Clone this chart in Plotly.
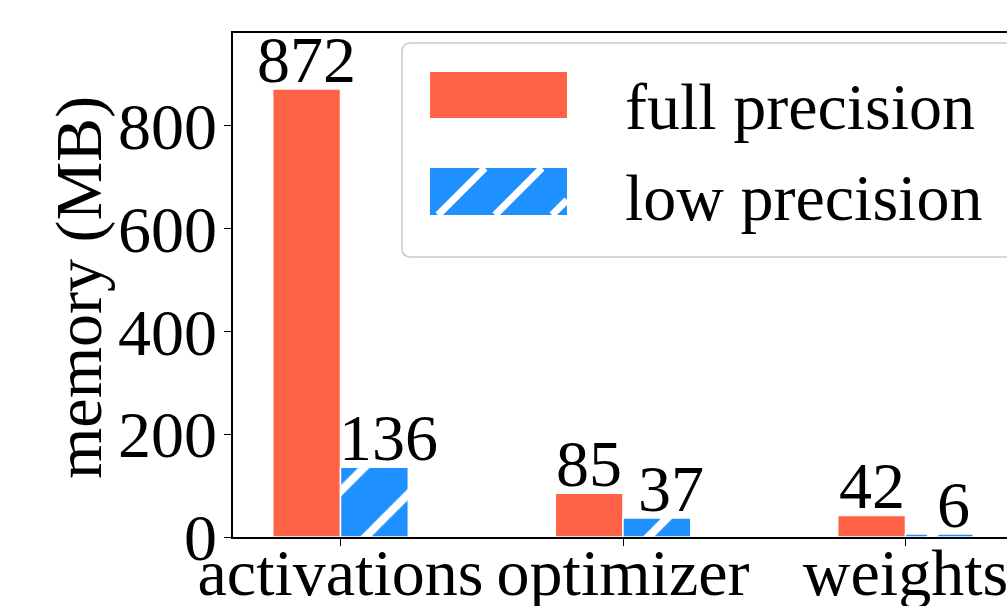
import plotly.graph_objects as go

# ---- data -------------------------------------------------------------
components = ["activations", "optimizer", "weights"]
full_precision = [872, 85, 42]
low_precision = [136, 37, 6]
y_ticks = [0, 200, 400, 600, 800]

# ---- style ------------------------------------------------------------
RED = "#FF6347"
BLUE = "#1E90FF"
FONT = "Liberation Serif"
FS = 66
BAR_W = 0.24

W, H = 1007, 606
M_L, M_R, M_T, M_B = 233, 0, 33, 69
PW, PH = W - M_L - M_R, H - M_T - M_B


def px(x):
    """pixel x -> paper x"""
    return (x - M_L) / PW


def py(y):
    """pixel y -> paper y"""
    return (H - M_B - y) / PH


idx = list(range(len(components)))

fig = go.Figure()
fig.add_trace(go.Bar(
    x=idx, y=full_precision, name="full precision",
    width=BAR_W, offset=-BAR_W,
    marker=dict(color=RED, line=dict(color="white", width=1.5)),
))
fig.add_trace(go.Bar(
    x=idx, y=low_precision, name="low precision",
    width=BAR_W, offset=0,
    marker=dict(
        color=BLUE,
        line=dict(color="white", width=1.5),
        pattern=dict(shape="/", fgcolor="white", bgcolor=BLUE,
                     size=50, solidity=0.16, fillmode="replace"),
    ),
))

annotations = []
# value labels on top of each bar (low-precision labels sit a bit to the right)
for i, (f, l) in enumerate(zip(full_precision, low_precision)):
    for xv, val, dx in ((i - BAR_W / 2, f, 0), (i + BAR_W / 2, l, 14)):
        annotations.append(dict(
            x=xv, y=val, xref="x", yref="y", text=str(val),
            showarrow=False, xanchor="center", yanchor="bottom",
            xshift=dx, yshift=-9,
            font=dict(family=FONT, size=FS, color="black"),
        ))

# y-axis title
annotations.append(dict(
    x=px(79), y=py(288), xref="paper", yref="paper",
    text="memory (MB)", textangle=-90, showarrow=False,
    xanchor="center", yanchor="middle",
    font=dict(family=FONT, size=FS, color="black"),
))

# legend entries
for label, ycen in (("full precision", 106), ("low precision", 198)):
    annotations.append(dict(
        x=px(623), y=py(ycen), xref="paper", yref="paper",
        text=label, showarrow=False, xanchor="left", yanchor="middle",
        font=dict(family=FONT, size=FS, color="black"),
    ))

shapes = []
# legend frame with rounded corners
lx0, ly0, lx1, ly1, r = 402, 43, 1025, 257, 9
path = (
    f"M {px(lx0 + r)},{py(ly0)} L {px(lx1 - r)},{py(ly0)} "
    f"Q {px(lx1)},{py(ly0)} {px(lx1)},{py(ly0 + r)} "
    f"L {px(lx1)},{py(ly1 - r)} Q {px(lx1)},{py(ly1)} {px(lx1 - r)},{py(ly1)} "
    f"L {px(lx0 + r)},{py(ly1)} Q {px(lx0)},{py(ly1)} {px(lx0)},{py(ly1 - r)} "
    f"L {px(lx0)},{py(ly0 + r)} Q {px(lx0)},{py(ly0)} {px(lx0 + r)},{py(ly0)} Z"
)
shapes.append(dict(type="path", path=path, xref="paper", yref="paper",
                   line=dict(color="#cccccc", width=1.5),
                   fillcolor="rgba(255,255,255,0.8)", layer="above"))

# legend patches
kx0, kx1 = 430, 567
shapes.append(dict(type="rect", xref="paper", yref="paper",
                   x0=px(kx0), x1=px(kx1), y0=py(118), y1=py(72),
                   fillcolor=RED, line=dict(width=0), layer="above"))
by0, by1 = 168, 215
shapes.append(dict(type="rect", xref="paper", yref="paper",
                   x0=px(kx0), x1=px(kx1), y0=py(by1), y1=py(by0),
                   fillcolor=BLUE, line=dict(width=0), layer="above"))
# hatch lines inside the blue patch, clipped to it
hgt = by1 - by0
for b in range(381, 640, 57):
    t0 = max(0, kx0 - b)
    t1 = min(hgt, kx1 - b)
    if t1 <= t0:
        continue
    shapes.append(dict(type="line", xref="paper", yref="paper",
                       x0=px(b + t0), y0=py(by1 - t0),
                       x1=px(b + t1), y1=py(by1 - t1),
                       line=dict(color="white", width=7), layer="above"))

ymax = max(full_precision) * 1.125

fig.update_layout(
    width=W, height=H,
    margin=dict(l=M_L, r=M_R, t=M_T, b=M_B, autoexpand=False),
    paper_bgcolor="white", plot_bgcolor="white",
    showlegend=False,
    barmode="overlay",
    font=dict(family=FONT, size=FS, color="black"),
    annotations=annotations,
    shapes=shapes,
    xaxis=dict(
        range=[-(340.5 - M_L) / 282.5, (W - 340.5) / 282.5],
        tickmode="array", tickvals=idx, ticktext=components,
        showline=True, linecolor="black", linewidth=1.6, mirror=True,
        ticks="outside", ticklen=7, tickwidth=1.4, tickcolor="black",
        showgrid=False, zeroline=False, automargin=False,
        ticklabelstandoff=-30, ticklabeloverflow="allow",
        tickfont=dict(family=FONT, size=FS, color="black"),
    ),
    yaxis=dict(
        range=[0, ymax],
        tickmode="array", tickvals=y_ticks,
        showline=True, linecolor="black", linewidth=1.6,
        ticks="outside", ticklen=7, tickwidth=1.4, tickcolor="black",
        showgrid=False, zeroline=False, automargin=False,
        ticklabelstandoff=-6,
        tickfont=dict(family=FONT, size=FS, color="black"),
    ),
)

fig.write_html("out.html")
